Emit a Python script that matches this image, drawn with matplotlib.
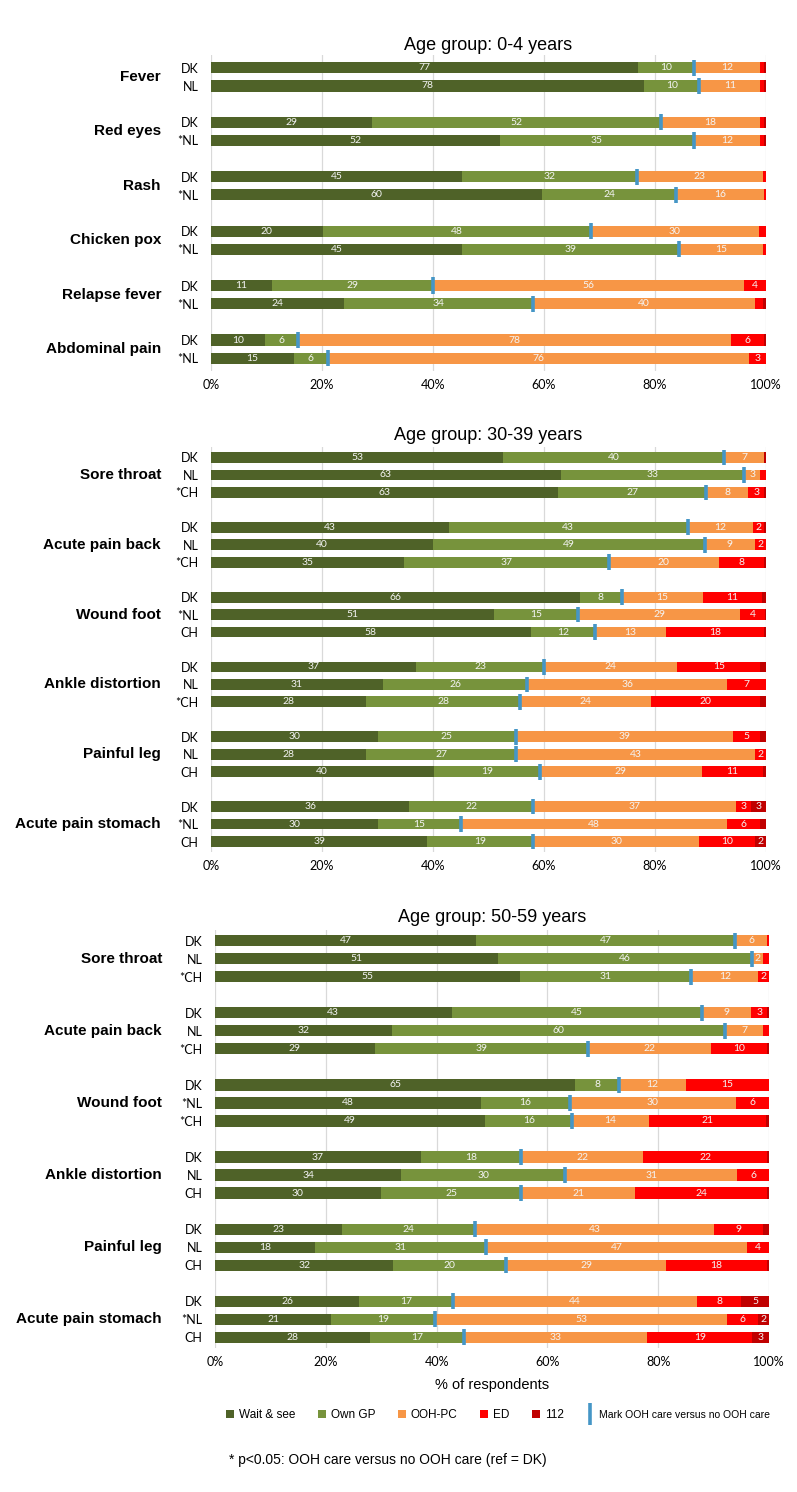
import matplotlib
matplotlib.use("Agg")
import matplotlib.pyplot as plt
import matplotlib.transforms as mtransforms
from matplotlib.patches import Patch
from matplotlib.lines import Line2D
import numpy as np

plt.rcParams['font.family'] = ['Liberation Sans', 'DejaVu Sans']

# ---- Panel 1: 0-4 years ----
p1_condiciones = ["Fever", "Red eyes", "Rash", "Chicken pox", "Relapse fever", "Abdominal pain"]
p1_paises = ["DK", "NL", "DK", "*NL", "DK", "*NL", "DK", "*NL", "DK", "*NL", "DK", "*NL"]
p1_wait = [77, 78, 29, 52, 45.2, 59.6, 20.1, 45.2, 11, 24, 9.8, 15]
p1_gp = [10, 10, 52, 35, 31.6, 24.2, 48.3, 39.1, 29, 34, 5.8, 6]
p1_ooh = [12, 11, 18, 12, 22.6, 15.8, 30.3, 15.2, 56, 40, 78.1, 76]
p1_ed = [0.7, 0.6, 0.7, 0.7, 0.6, 0.4, 1.3, 0.5, 4, 1.5, 5.9, 3]
p1_112 = [0.3, 0.4, 0.3, 0.3, 0, 0, 0, 0, 0, 0.5, 0.4, 0]

# ---- Panel 2: 30-39 years ----
p2_condiciones = ["Sore throat", "Acute pain back", "Wound foot", "Ankle distortion",
                  "Painful leg", "Acute pain stomach"]
p2_paises = ["DK", "NL", "*CH", "DK", "NL", "*CH", "DK", "*NL", "CH",
             "DK", "NL", "*CH", "DK", "NL", "CH", "DK", "*NL", "CH"]
p2_wait = [52.6, 63, 62.6, 42.8, 40, 34.8, 66.4, 51.0, 57.6, 37, 31, 27.9, 30, 28, 40.1, 35.7, 30, 39]
p2_gp = [39.8, 33, 26.6, 43.1, 49, 36.9, 7.6, 15.2, 11.6, 23, 26, 27.8, 25, 27, 19.2, 22.3, 15, 19]
p2_ooh = [7.3, 3, 7.6, 11.8, 9, 19.8, 14.6, 29.2, 12.7, 24, 36, 23.6, 39, 43, 29.1, 36.6, 48, 30]
p2_ed = [0, 1, 2.9, 2.0, 2, 8.2, 10.6, 4.4, 17.8, 15, 7, 19.7, 5, 2, 11.1, 2.7, 6, 10]
p2_112 = [0.3, 0, 0.3, 0.3, 0, 0.3, 0.8, 0.2, 0.3, 1, 0, 1.0, 1, 0, 0.5, 2.7, 1, 2]

# ---- Panel 3: 50-59 years ----
p3_condiciones = p2_condiciones
p3_paises = ["DK", "NL", "*CH", "DK", "NL", "*CH", "DK", "*NL", "*CH",
             "DK", "NL", "CH", "DK", "NL", "CH", "DK", "*NL", "CH"]
p3_wait = [47.1, 51, 55, 42.7, 32, 28.8, 65, 48, 48.8, 37.2, 33.6, 29.9, 23, 18, 32.2, 26, 21.0, 28]
p3_gp = [46.8, 46, 31, 45.2, 60, 38.6, 8, 16, 15.7, 18.0, 29.6, 25.4, 24, 31, 20.4, 17, 18.7, 17]
p3_ooh = [5.8, 2, 12, 8.9, 7, 22.1, 12, 30, 13.8, 22.1, 31.1, 20.6, 43, 47, 28.8, 44, 52.8, 33]
p3_ed = [0.3, 1, 2, 2.9, 1, 10.1, 15, 6, 21.2, 22.4, 5.7, 23.7, 9, 4, 18.3, 8, 5.6, 19]
p3_112 = [0, 0, 0, 0.3, 0, 0.4, 0, 0, 0.5, 0.3, 0, 0.4, 1, 0, 0.3, 5, 1.9, 3]

series = ["Wait & see", "Own GP", "OOH-PC", "ED", "112"]
colores = ["#4f6228", "#77933c", "#f79646", "#ff0000", "#c00000"]
color_marca = "#4596c6"

W, H = 797, 1492
fig = plt.figure(figsize=(W / 100, H / 100), dpi=100)


def ejes_px(left, top, right, bottom):
    return fig.add_axes([left / W, 1 - bottom / H, (right - left) / W, (bottom - top) / H])


def dibujar_panel(ax, titulo, y_titulo, condiciones, paises, valores, n, x_cat, margen):
    pos = np.array([g * (n + 1) + m for g in range(len(condiciones)) for m in range(n)])
    izq = np.zeros(len(pos))
    for serie, color in zip(valores, colores):
        serie = np.array(serie, dtype=float)
        ax.barh(pos, serie, left=izq, height=0.62, color=color, zorder=2)
        for y, v, l in zip(pos, serie, izq):
            if v >= 1.8:
                ax.text(l + v / 2, y, f"{v:.0f}", ha="center", va="center",
                        color="#f4f4f4", fontsize=7.5, family="Lato", zorder=3)
        izq += serie

    # marca: OOH care versus no OOH care
    marca = np.array(valores[0]) + np.array(valores[1])
    ax.vlines(marca, pos - 0.45, pos + 0.45, color=color_marca, lw=2.6, zorder=4)

    ax.set_xlim(0, 100)
    ax.set_ylim(pos[-1] + margen, -margen)
    ax.set_xticks(range(0, 101, 20))
    ax.set_xticklabels([f"{t}%" for t in range(0, 101, 20)], family="Lato", fontsize=9)
    ax.set_yticks(pos)
    ax.set_yticklabels(paises, family="Lato", fontsize=9)
    ax.tick_params(length=0)
    ax.tick_params(axis="y", pad=9)
    ax.tick_params(axis="x", pad=6)
    ax.xaxis.grid(True, color="#d9d9d9", lw=0.9, zorder=0)
    ax.set_axisbelow(True)
    for s in ax.spines.values():
        s.set_visible(False)

    trans = mtransforms.blended_transform_factory(fig.transFigure, ax.transData)
    for g, nombre in enumerate(condiciones):
        ax.text(x_cat / W, g * (n + 1) + (n - 1) / 2, nombre, transform=trans,
                ha="right", va="center", fontsize=11, fontweight="bold")

    bb = ax.get_position()
    fig.text((bb.x0 + bb.x1) / 2, 1 - y_titulo / H, titulo, ha="center", va="center", fontsize=13)


ax1 = ejes_px(211, 55, 766, 371)
dibujar_panel(ax1, "Age group: 0-4 years", 45, p1_condiciones, p1_paises,
              [p1_wait, p1_gp, p1_ooh, p1_ed, p1_112], 2, 161, 0.7)

ax2 = ejes_px(211, 447, 766, 852)
dibujar_panel(ax2, "Age group: 30-39 years", 435, p2_condiciones, p2_paises,
              [p2_wait, p2_gp, p2_ooh, p2_ed, p2_112], 3, 161, 0.6)

ax3 = ejes_px(215, 930, 769, 1348)
dibujar_panel(ax3, "Age group: 50-59 years", 918, p3_condiciones, p3_paises,
              [p3_wait, p3_gp, p3_ooh, p3_ed, p3_112], 3, 162, 0.6)
ax3.set_xlabel("% of respondents", fontsize=10.5, labelpad=7)

handles = [Patch(facecolor=c, edgecolor="none") for c in colores]
handles.append(Line2D([], [], color=color_marca, marker="|", markersize=16,
                      markeredgewidth=2.6, linestyle="None"))
etiquetas = series + ["Mark OOH care versus no OOH care"]
leg = fig.legend(handles, etiquetas, loc="center", bbox_to_anchor=(498 / W, 1 - 1415 / H),
                 ncol=6, frameon=False, fontsize=8.5, handlelength=0.7, handleheight=0.7,
                 handletextpad=0.4, columnspacing=1.9)
leg.get_texts()[-1].set_fontsize(7.5)

fig.text(229 / W, 1 - 1460 / H, "* p<0.05: OOH care versus no OOH care (ref = DK)",
         ha="left", va="center", fontsize=10)

fig.savefig("out.png", dpi=100)
